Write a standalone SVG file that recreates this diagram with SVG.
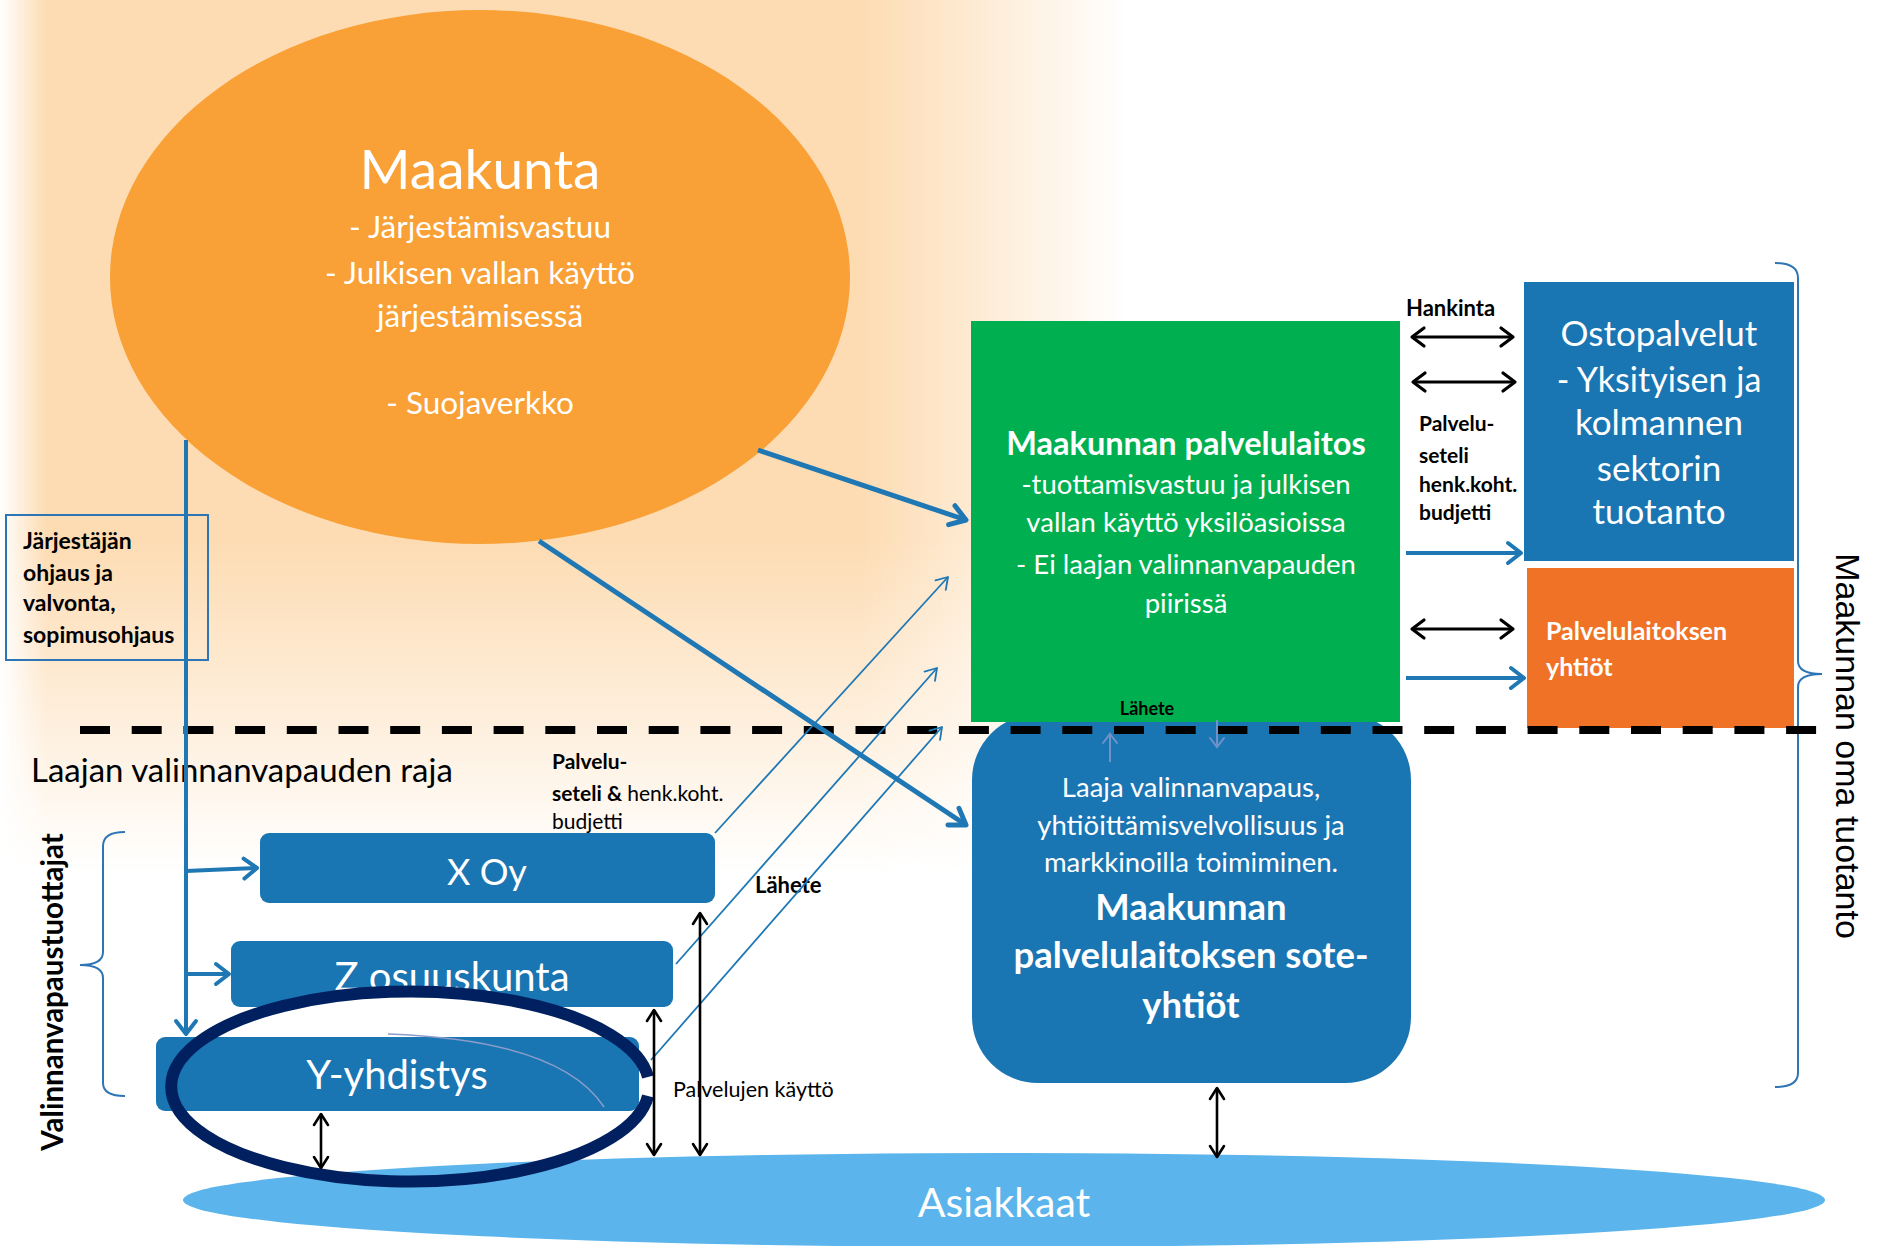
<svg xmlns="http://www.w3.org/2000/svg" width="1877" height="1246" viewBox="0 0 1877 1246">
<defs>
<style>
text{font-family:Lato,"Liberation Sans",sans-serif}
.w{fill:#fff}
.k{fill:#000}
.b{font-weight:700}
.m{text-anchor:middle}
.thick{stroke:#1F78B4;stroke-width:5;fill:none}
.med{stroke:#1F78B4;stroke-width:4;fill:none}
.thin{stroke:#1F78B4;stroke-width:1.8;fill:none}
.blk{stroke:#000;stroke-width:2.6;fill:none}
.blk3{stroke:#000;stroke-width:3.2;fill:none}
.box{fill:#1A75B3}
</style>
<linearGradient id="gH" gradientUnits="userSpaceOnUse" x1="0" y1="0" x2="1150" y2="0">
<stop offset="0" stop-color="#000"/><stop offset="0.04" stop-color="#fff"/><stop offset="0.75" stop-color="#fff"/><stop offset="0.98" stop-color="#000"/>
</linearGradient>
<linearGradient id="gV" gradientUnits="userSpaceOnUse" x1="0" y1="0" x2="0" y2="900">
<stop offset="0" stop-color="#fff"/><stop offset="0.6" stop-color="#fff"/><stop offset="0.97" stop-color="#000"/>
</linearGradient>
<mask id="mH" maskUnits="userSpaceOnUse" x="0" y="0" width="1877" height="1246"><rect width="1877" height="1246" fill="url(#gH)"/></mask>
<mask id="mV" maskUnits="userSpaceOnUse" x="0" y="0" width="1877" height="1246"><rect width="1877" height="1246" fill="url(#gV)"/></mask>
<marker id="aThick" viewBox="-20 -15 30 30" markerWidth="30" markerHeight="30" refX="0" refY="0" orient="auto" markerUnits="userSpaceOnUse">
<path d="M-15,-10 L0,0 L-15,10" fill="none" stroke="#1F78B4" stroke-width="5" stroke-linecap="round" stroke-linejoin="round"/></marker>
<marker id="aMed" viewBox="-20 -15 30 30" markerWidth="30" markerHeight="30" refX="0" refY="0" orient="auto" markerUnits="userSpaceOnUse">
<path d="M-13,-10 L0,0 L-13,10" fill="none" stroke="#1F78B4" stroke-width="4" stroke-linecap="round" stroke-linejoin="round"/></marker>
<marker id="aThin" viewBox="-20 -15 30 30" markerWidth="30" markerHeight="30" refX="0" refY="0" orient="auto" markerUnits="userSpaceOnUse">
<path d="M-11,-7 L0,0 L-11,7" fill="none" stroke="#1F78B4" stroke-width="1.8" stroke-linecap="round" stroke-linejoin="round"/></marker>
<marker id="aBlk" viewBox="-20 -15 30 30" markerWidth="30" markerHeight="30" refX="0" refY="0" orient="auto-start-reverse" markerUnits="userSpaceOnUse">
<path d="M-11,-7 L0,0 L-11,7" fill="none" stroke="#000" stroke-width="2.6" stroke-linecap="round" stroke-linejoin="round"/></marker>
<marker id="aBlk3" viewBox="-20 -15 30 30" markerWidth="30" markerHeight="30" refX="0" refY="0" orient="auto-start-reverse" markerUnits="userSpaceOnUse">
<path d="M-12,-9 L0,0 L-12,9" fill="none" stroke="#000" stroke-width="3.2" stroke-linecap="round" stroke-linejoin="round"/></marker>
<marker id="aFaint" viewBox="-20 -15 30 30" markerWidth="30" markerHeight="30" refX="0" refY="0" orient="auto" markerUnits="userSpaceOnUse">
<path d="M-9,-7 L0,0 L-9,7" fill="none" stroke="#6F92C8" stroke-width="2" stroke-linecap="round"/></marker>
</defs>

<rect width="1877" height="1246" fill="#fff"/>
<g mask="url(#mV)"><rect width="1877" height="1246" fill="#FDDCB3" mask="url(#mH)"/></g>

<g id="maakunta">
<ellipse cx="480" cy="277" rx="370" ry="267" fill="#F9A036"/>
<text class="w m" x="480" y="189" font-size="55">Maakunta</text>
<text class="w m" x="480" y="238" font-size="31.5">- Järjestämisvastuu</text>
<text class="w m" x="480" y="284" font-size="31.5">- Julkisen vallan käyttö</text>
<text class="w m" x="480" y="327" font-size="31.5">järjestämisessä</text>
<text class="w m" x="480" y="414" font-size="31.5">- Suojaverkko</text>
</g>

<g id="jarjestajan">
<rect x="6" y="515" width="202" height="145" fill="none" stroke="#2E75B6" stroke-width="2"/>
<text class="k b" x="23" y="549" font-size="23">Järjestäjän</text>
<text class="k b" x="23" y="581" font-size="23">ohjaus ja</text>
<text class="k b" x="23" y="611" font-size="23">valvonta,</text>
<text class="k b" x="23" y="643" font-size="23">sopimusohjaus</text>
</g>

<g id="sote">
<rect x="972" y="714" width="439" height="369" rx="66" ry="66" class="box"/>
<text class="w m" x="1191" y="797" font-size="27.5">Laaja valinnanvapaus,</text>
<text class="w m" x="1191" y="835" font-size="27.5">yhtiöittämisvelvollisuus ja</text>
<text class="w m" x="1191" y="872" font-size="27.5">markkinoilla toimiminen.</text>
<text class="w b m" x="1191" y="920" font-size="36.5">Maakunnan</text>
<text class="w b m" x="1191" y="968" font-size="36.5">palvelulaitoksen sote-</text>
<text class="w b m" x="1191" y="1018" font-size="36.5">yhtiöt</text>
</g>

<g id="palvelulaitos">
<rect x="971" y="321" width="429" height="401" fill="#00B050"/>
<text class="w b m" x="1186" y="455" font-size="32.5">Maakunnan palvelulaitos</text>
<text class="w m" x="1186" y="494" font-size="27.5">-tuottamisvastuu ja julkisen</text>
<text class="w m" x="1186" y="532" font-size="27.5">vallan käyttö yksilöasioissa</text>
<text class="w m" x="1186" y="574" font-size="27.5">- Ei laajan valinnanvapauden</text>
<text class="w m" x="1186" y="613" font-size="27.5">piirissä</text>
<text class="k b m" x="1147" y="715" font-size="18">Lähete</text>
</g>

<g id="ostopalvelut">
<rect x="1524" y="282" width="270" height="279" class="box"/>
<text class="w m" x="1659" y="346" font-size="35">Ostopalvelut</text>
<text class="w m" x="1659" y="392" font-size="34">- Yksityisen ja</text>
<text class="w m" x="1659" y="435" font-size="35">kolmannen</text>
<text class="w m" x="1659" y="481" font-size="35">sektorin</text>
<text class="w m" x="1659" y="524" font-size="35">tuotanto</text>
</g>

<g id="yhtiot">
<rect x="1527" y="568" width="267" height="160" fill="#F07226"/>
<text class="w b" x="1546" y="640" font-size="25">Palvelulaitoksen</text>
<text class="w b" x="1546" y="676" font-size="25">yhtiöt</text>
</g>

<g id="xoy">
<rect x="260" y="833" width="455" height="70" rx="9" class="box"/>
<text class="w m" x="487" y="885" font-size="36">X Oy</text>
</g>

<g id="zosuuskunta">
<rect x="231" y="941" width="442" height="66" rx="9" class="box"/>
<text class="w m" x="452" y="991" font-size="40">Z osuuskunta</text>
</g>

<g id="yyhdistys">
<ellipse cx="410" cy="1086" rx="239" ry="95" fill="#fff"/>
<rect x="156" y="1037" width="483" height="74" rx="9" class="box"/>
<text class="w m" x="397" y="1089" font-size="40">Y-yhdistys</text>
<path d="M388 1034 Q560 1040 604 1107" fill="none" stroke="#8C9CCB" stroke-width="1.5"/>
</g>

<g id="asiakkaat">
<ellipse cx="1004" cy="1200" rx="821" ry="47" fill="#5BB4EB"/>
<text class="w m" x="1004" y="1217" font-size="41">Asiakkaat</text>
</g>

<path id="ring" d="M648 1096 A239 95 0 1 1 648 1077" fill="none" stroke="#002060" stroke-width="12"/>

<g id="labels">
<text class="k" x="31" y="782" font-size="33">Laajan valinnanvapauden raja</text>
<text class="k b" x="552" y="769" font-size="21">Palvelu-</text>
<text class="k" x="552" y="801" font-size="21"><tspan font-weight="700">seteli &amp; </tspan>henk.koht.</text>
<text class="k" x="552" y="829" font-size="21">budjetti</text>
<text class="k b" x="755" y="893" font-size="22">Lähete</text>
<text class="k" x="673" y="1097" font-size="21.5">Palvelujen käyttö</text>
<text class="k b" x="1406" y="316" font-size="22">Hankinta</text>
<text class="k b" x="1419" y="431" font-size="21">Palvelu-</text>
<text class="k b" x="1419" y="463" font-size="21">seteli</text>
<text class="k b" x="1419" y="492" font-size="21">henk.koht.</text>
<text class="k b" x="1419" y="520" font-size="21">budjetti</text>
<text class="k b m" transform="translate(63 992) rotate(-90)" font-size="29.5">Valinnanvapaustuottajat</text>
<text class="k m" transform="translate(1836 746) rotate(90)" font-size="34" style="font-family:'Liberation Sans',sans-serif">Maakunnan oma tuotanto</text>
</g>

<g id="braces" fill="none" stroke="#2E75B6" stroke-width="2">
<path d="M125 832 Q103 832 103 846 L103 952 Q103 965 80 965 Q103 965 103 978 L103 1083 Q103 1096 125 1096"/>
<path d="M1775 263 Q1798 263 1798 278 L1798 661 Q1798 674 1822 674 Q1798 674 1798 687 L1798 1073 Q1798 1087 1775 1087"/>
</g>

<line x1="80" y1="730" x2="1823" y2="730" stroke="#000" stroke-width="8" stroke-dasharray="30 21.7"/>

<g id="connectors">
<line class="thick" x1="758" y1="450" x2="966" y2="520" marker-end="url(#aThick)"/>
<line class="thick" x1="539" y1="541" x2="966" y2="825" marker-end="url(#aThick)"/>
<line class="med" x1="186" y1="440" x2="186" y2="1034" marker-end="url(#aMed)"/>
<line class="med" x1="186" y1="871" x2="257" y2="868" marker-end="url(#aMed)"/>
<line class="med" x1="186" y1="974" x2="229" y2="974" marker-end="url(#aMed)"/>
<line class="med" x1="1406" y1="553" x2="1521" y2="553" marker-end="url(#aMed)"/>
<line class="med" x1="1406" y1="678" x2="1524" y2="678" marker-end="url(#aMed)"/>
<line class="thin" x1="715" y1="833" x2="948" y2="577" marker-end="url(#aThin)"/>
<line class="thin" x1="676" y1="964" x2="937" y2="668" marker-end="url(#aThin)"/>
<line class="thin" x1="651" y1="1060" x2="942" y2="727" marker-end="url(#aThin)"/>
<line class="blk3" x1="1412" y1="337" x2="1513" y2="337" marker-start="url(#aBlk3)" marker-end="url(#aBlk3)"/>
<line class="blk3" x1="1413" y1="382" x2="1515" y2="382" marker-start="url(#aBlk3)" marker-end="url(#aBlk3)"/>
<line class="blk3" x1="1412" y1="629" x2="1513" y2="629" marker-start="url(#aBlk3)" marker-end="url(#aBlk3)"/>
<line class="blk" x1="700" y1="913" x2="700" y2="1155" marker-start="url(#aBlk)" marker-end="url(#aBlk)"/>
<line class="blk" x1="654" y1="1010" x2="654" y2="1155" marker-start="url(#aBlk)" marker-end="url(#aBlk)"/>
<line class="blk" x1="321" y1="1114" x2="321" y2="1168" marker-start="url(#aBlk)" marker-end="url(#aBlk)"/>
<line class="blk" x1="1217" y1="1088" x2="1217" y2="1157" marker-start="url(#aBlk)" marker-end="url(#aBlk)"/>
<line x1="1110" y1="762" x2="1110" y2="734" stroke="#6F92C8" stroke-width="2" marker-end="url(#aFaint)"/>
<line x1="1217" y1="720" x2="1217" y2="747" stroke="#6F92C8" stroke-width="2" marker-end="url(#aFaint)"/>
</g>
</svg>
